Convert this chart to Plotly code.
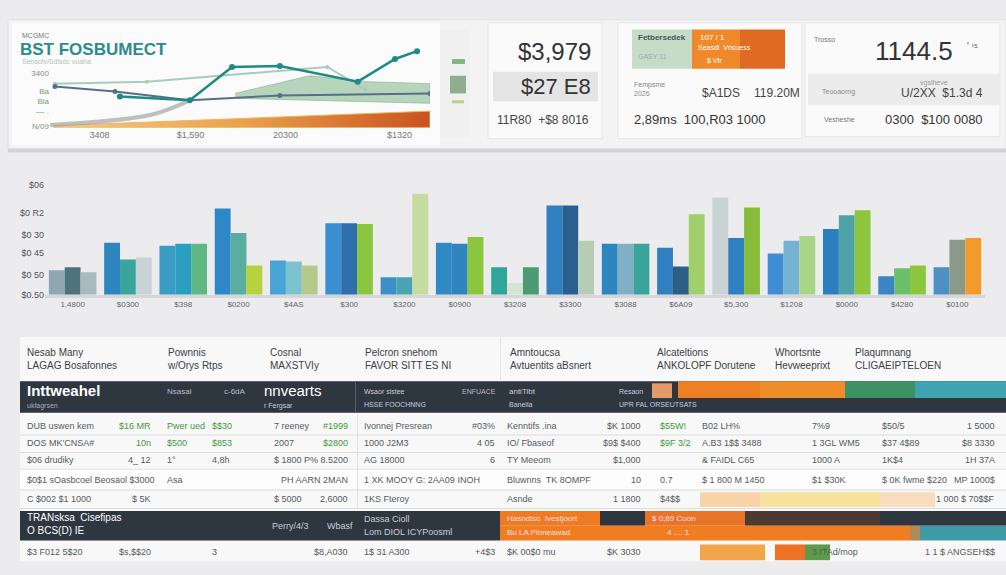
import plotly.graph_objects as go

W, H = 1006, 575
FONT = "Liberation Sans, Arial, sans-serif"

# ---------------- data ----------------
# top line chart
line_x_ticks = [1.3, 3.7, 6.2, 9.2]
line_x_labels = ["3408", "$1,590", "20300", "$1320"]
line_y_ticks = [65, 44, 32, 20, 2]
line_y_labels = ["3400", "Bа", "Bla", "–– .", "N/09"]
teal_x = [1.84, 3.68, 4.79, 6.05, 8.1, 9.08, 9.66]
teal_y = [37.6, 32.9, 72.9, 74.1, 55.3, 82.4, 91.8]
steel_x = [0.13, 1.71, 3.68, 6.05, 10.0]
steel_y = [49.4, 43.5, 32.9, 38.8, 41.2]
pale_x = [0.13, 2.55, 7.3, 8.3]
pale_y = [52.9, 55.3, 72.9, 45.9]
sweep_x = [0.0, 2.63, 3.68]
sweep_y = [3.5, 15.3, 32.9]
green_area_x = [4.87, 6.84, 8.29, 10.0, 10.0, 4.87]
green_area_y = [41.2, 62.4, 55.3, 52.9, 29.4, 35.3]
orange_area_x = [0.08, 10.0, 10.0, 0.08]
orange_area_y = [2.4, 20.0, 0.0, 0.0]

# bar chart
bar_categories = ["1,4800", "$0300", "$398", "$0200", "$4AS", "$300", "$3200", "$0900",
                  "$3208", "$3300", "$3088", "$6A09", "$5,300", "$1208", "$0000", "$4280", "$0100"]
series_a = [25, 53, 50, 88, 35, 73, 18, 53, 28, 91, 52, 48, 99, 42, 67, 19, 28]
series_b = [28, 36, 52, 63, 34, 73, 18, 52, 12, 91, 52, 29, 58, 55, 81, 27, 56]
series_c = [23, 38, 52, 30, 30, 72, 103, 59, 28, 55, 52, 82, 89, 60, 86, 30, 58]
bar_y_ticks = [0, 20, 43, 61, 83, 112]
bar_y_labels = ["$0.50", "$0 50", "$0 45", "$0 30", "$0 R2", "$06"]

# KPI values
kpi1 = ["$3,979", "$27 E8", "11R80  +$8 8016"]
kpi2 = ["$A1DS", "119.20M", "2,89ms  100,R03 1000"]
kpi3 = ["1144.5", "U/2XX  $1.3d 4", "0300  $100 0080"]

# table
table_header = ["Nesab Many<br>LAGAG Bosafonnes", "Pownnis<br>w/Orys Rtps", "Cosnal<br>MAXSTVIy",
                "Pelcron snehom<br>FAVOR SITT ES NI", "Amntoucsa<br>Avtuentits aBsnert",
                "Alcateltions<br>ANKOLOPF Dorutene", "Whortsnte<br>Hevweeprixt",
                "Plaqumnang<br>CLIGAEIPTELOEN"]
table_rows = [
    ["DUB uswen kem", "$16 MR", "Pwer ued", "$$30", "7 reeney", "#1999", "Ivonnej Presrean", "#03%",
     "Kenntifs .ina", "$K 1000", "$55W!", "B02 LH%", "7%9", "$50/5", "1 5000"],
    ["DOS MK'CNSA#", "10n", "$500", "$853", "2007", "$2800", "1000 J2M3", "4 05",
     "IO/ Fbaseof", "$9$ $400", "$9F 3/2", "A.B3 1$$ 3488", "1 3GL WM5", "$37 4$89", "$8 3330"],
    ["$06 drudiky", "4_ 12", "1°", "4,8h", "", "$ 1800 P% 8.5200", "AG 18000", "6",
     "TY Meeom", "$1,000", "", "& FAIDL C65", "1000 A", "1K$4", "1H 37A"],
    ["$0$1 sOasbcoel Beosaol $3000", "", "Asa", "", "", "PH AARN 2MAN", "1 XK MOOY G: 2AA09 INOH", "",
     "Bluwnns  TK 8OMPF", "10", "0.7", "$ 1 800 M 1450", "$1 $30K", "$ 0K fwme $220", "MP 1000$"],
    ["C $002 $1 1000", "$ 5K", "", "", "$ 5000", "2,6000", "1KS Fteroy", "",
     "Asnde", "1 1800", "$4$$", "", "", "", "1 000 $ 70$$F"],
]
last_row = ["$3 F012 5$20", "$s,$$20", "", "3", "", "$8,A030", "1$ 31 A300", "+4$3",
            "$K 00$0 mu", "$K 3030", "", "", "3 ITAd/mop", "", "1 1 $ ANGSEH$$"]

# ---------------- helpers ----------------
def px(x):
    return x / W

def py(y):
    return 1 - y / H

shapes = []
annotations = []

def rect(x0, y0, x1, y1, fill, line=None, layer="below", lw=1):
    shapes.append(dict(type="rect", xref="paper", yref="paper",
                       x0=px(x0), x1=px(x1), y0=py(y1), y1=py(y0),
                       fillcolor=fill, layer=layer,
                       line=dict(color=line or "rgba(0,0,0,0)", width=lw if line else 0)))

def text(x, y, s, size=10, color="#555", anchor="left", bold=False, family=FONT):
    if not s:
        return
    annotations.append(dict(xref="paper", yref="paper", x=px(x), y=py(y), text=(f"<b>{s}</b>" if bold else s),
                            showarrow=False, xanchor=anchor, yanchor="middle",
                            font=dict(size=size, color=color, family=family), align="left"))

# ---------------- background cards ----------------
rect(8, 15, 1006, 147, "#f3f3f4", "#e0e0e2")
rect(12, 18, 440, 143, "#fbfbfb")
rect(440, 25, 470, 135, "#f0f0f0")
rect(452, 55, 465, 60, "#7fb77f")
rect(450, 72, 466, 90, "#8fae90")
rect(452, 97, 464, 100, "#b7d27a")
rect(488, 18, 602, 136, "#fafafa", "#e6e6e6")
rect(493, 68, 598, 98, "#e4e4e4")
rect(618, 18, 802, 136, "#fafafa", "#e6e6e6")
rect(632, 25, 692, 65, "#c6dcc6")
rect(692, 25, 740, 65, "#ef8a2c")
rect(740, 25, 785, 65, "#e06a22")
rect(805, 18, 1000, 134, "#fafafa", "#e6e6e6")
rect(808, 70, 1000, 102, "#ececec")
rect(8, 146, 1006, 150, "#d3d3d6")

# KPI texts
text(593, 47, kpi1[0], 24, "#333", "right")
text(593, 83, kpi1[1], 22, "#333", "right")
text(495, 117, kpi1[2], 12, "#444")
text(636, 33, "Fetbersedek", 8, "#455", bold=True)
text(636, 52, "GASY 11", 7, "#9ab")
text(698, 33, "107 / 1", 8, "#fff")
text(696, 43, "Seasdi  Vnsuess", 7, "#fff")
text(705, 56, "$ Vtr", 7, "#fff")
text(632, 85, "Fempsme<br>2026", 7, "#888")
text(700, 90, kpi2[0], 12, "#444")
text(752, 90, kpi2[1], 12, "#444")
text(632, 117, kpi2[2], 13, "#333")
text(812, 35, "Trosso", 7, "#777")
text(955, 47, kpi3[0], 26, "#333", "right")
text(965, 42, "' ⁱ⁵", 10, "#555")
text(820, 89, "Teooaorng", 7, "#888")
text(950, 79, "vgslheve", 7, "#999", "right")
text(985, 90, kpi3[1], 12, "#444", "right")
text(822, 117, "Vesheshe", 7, "#777")
text(985, 117, kpi3[2], 13, "#333", "right")

# top chart titles
text(20, 31, "MCGMC", 7, "#777")
text(18, 45, "BST FOSBUMECT", 17, "#2a8c8f", bold=True)
text(20, 57, "Sensolv/Sdlsdc vuaha", 7, "#a9c8b8")

# ---------------- table ----------------
rect(20, 338, 1006, 566, "#f8f8f8")
rect(20, 383, 1006, 415, "#2e3640")
rect(678, 383, 760, 400, "#ee7f22")
rect(760, 383, 845, 400, "#ef8d2a")
rect(845, 383, 915, 400, "#3d9163")
rect(915, 383, 1006, 400, "#3ea5b0")
rect(652, 385, 672, 400, "#e59a6a")
rect(355, 383, 356, 415, "#56606a")
for yd in [437, 455, 472, 493, 512]:
    rect(20, yd, 1006, yd + 1, "#dcdcdc")
rect(20, 473, 1006, 492, "#fdfdfd")
rect(357, 416, 358, 512, "#e0e0e0")
rect(500, 338, 501, 383, "#e4e4e4")
rect(700, 496, 760, 511, "#f8d3a8")
rect(760, 496, 880, 511, "#f6e29a")
rect(880, 496, 935, 511, "#f7dcc0")
rect(20, 515, 500, 545, "#2e3640")
rect(500, 515, 600, 530, "#ee7a22")
rect(600, 515, 645, 530, "#2e3640")
rect(645, 515, 745, 530, "#e8742a")
rect(745, 515, 880, 530, "#4a3a32")
rect(880, 515, 1006, 530, "#2e3640")
rect(500, 530, 910, 545, "#f07d22")
rect(910, 530, 920, 545, "#b08a5a")
rect(920, 530, 1006, 545, "#3f9aa5")
rect(700, 549, 765, 565, "#f3a54a")
rect(775, 549, 805, 565, "#ef7124")
rect(805, 549, 830, 565, "#5d9a4a")

header_x = [25, 165, 268, 363, 508, 655, 773, 853]
for hx, ht in zip(header_x, table_header):
    text(hx, 360, ht, 10, "#3a3f46")

text(25, 392, "Inttweahel", 15, "#ffffff", bold=True)
text(25, 408, "ukfagrsen", 7, "#aab")
text(165, 393, "Nsasal", 8, "#bbc")
text(222, 393, "c-6dA", 8, "#bbc")
text(262, 392, "nnvearts", 15, "#ffffff")
text(262, 408, "r Fergsar", 7, "#ccd")
text(362, 393, "Wsaor sistee", 7, "#ccd")
text(362, 407, "HSSE FOOCHNNG", 7, "#ccd")
text(460, 393, "ENFUACE", 7, "#bbc")
text(507, 393, "antiTibt", 8, "#ccd")
text(507, 407, "Baneila", 7, "#ccd")
text(617, 393, "Resaon", 7, "#ccd")
text(617, 407, "UPR FAL ORSEUTSATS", 7, "#ccd")

col_x = [25, 153, 165, 210, 272, 350, 362, 497, 505, 643, 658, 700, 810, 880, 997]
col_anchor = ["left", "right", "left", "left", "left", "right", "left", "right",
              "left", "right", "left", "left", "left", "left", "right"]
green_cols = {1, 2, 3, 5, 10}
row_y = [428, 446, 463, 483, 503]
for ri, (ry, row) in enumerate(zip(row_y, table_rows)):
    for ci, val in enumerate(row):
        c = "#3d9a3d" if (ri < 2 and ci in green_cols) else "#555a60"
        text(col_x[ci], ry, val, 9, c, col_anchor[ci])

text(25, 522, "TRANsksa  Cisefipas", 10, "#ffffff")
text(25, 535, "O BCS(D) IE", 10, "#ffffff")
text(270, 530, "Perry/4/3", 9, "#ccd")
text(325, 530, "Wbasf", 9, "#ccd")
text(362, 523, "Dassa Cioll", 9, "#ccd")
text(362, 536, "Lom DIOL ICYPoosml", 9, "#ccd")
text(505, 523, "Hasndiso  Ivestjoort", 8, "#fde")
text(505, 537, "Bu LA Pinneawad", 8, "#fde")
text(650, 523, "$ 0;89 Coon", 8, "#fde")
text(665, 537, "4 .... 1", 8, "#fde")
for ci, val in enumerate(last_row):
    text(col_x[ci], 557, val, 9, "#555a60", col_anchor[ci])

# ---------------- traces ----------------
fig = go.Figure()

# top line chart (xaxis / yaxis)
fig.add_trace(go.Scatter(x=orange_area_x, y=orange_area_y, fill="toself", mode="lines",
                         line=dict(color="#f0b35a", width=1),
                         fillgradient=dict(type="horizontal",
                                           colorscale=[[0, "#f5c98a"], [0.5, "#e9a24c"], [1, "#c9521f"]]),
                         hoverinfo="skip", showlegend=False))
fig.add_trace(go.Scatter(x=green_area_x, y=green_area_y, fill="toself", mode="lines",
                         line=dict(color="rgba(120,175,130,0.6)", width=1),
                         fillcolor="rgba(128,182,138,0.55)", hoverinfo="skip", showlegend=False))
fig.add_trace(go.Scatter(x=sweep_x, y=sweep_y, mode="lines", line=dict(color="rgba(150,150,150,0.6)", width=4, shape="spline"),
                         showlegend=False))
fig.add_trace(go.Scatter(x=pale_x, y=pale_y, mode="lines+markers", line=dict(color="#a9cbbd", width=2),
                         marker=dict(size=4), showlegend=False))
fig.add_trace(go.Scatter(x=steel_x, y=steel_y, mode="lines+markers", line=dict(color="#56708a", width=2),
                         marker=dict(size=5), showlegend=False))
fig.add_trace(go.Scatter(x=teal_x, y=teal_y, mode="lines+markers", line=dict(color="#1f8a83", width=2.5),
                         marker=dict(size=6), showlegend=False))

# bar chart (xaxis2 / yaxis2)
colors_a = ["#8fa7b0", "#2e86c1", "#3a9bc4", "#2f88c5", "#4aa3d6", "#3a8fd0", "#3c8fc6", "#2f8ac3", "#2fa69a",
            "#2f7fc1", "#2e86c1", "#2f7fc1", "#c9d3d4", "#3f8fd4", "#2c7fbf", "#3a86c4", "#4e8fc4"]
colors_b = ["#4f737c", "#3aa59c", "#2a9fbf", "#5aaea0", "#7cc3cf", "#2f6fae", "#48a3b3", "#2f86bf", "#d5e5d3",
            "#2a5f90", "#7fb0c8", "#2d5f85", "#2f7fc1", "#74b3d3", "#4fa3a8", "#6cbf6a", "#8a9a8a"]
colors_c = ["#a9babf", "#c9d3d5", "#5fb883", "#b7d23c", "#b5c98a", "#8cc63f", "#c5dba0", "#8cc63f", "#4c9b74",
            "#b5cdb5", "#3aa39a", "#a1cf6b", "#86bc37", "#a9d684", "#8cc63f", "#8cc63f", "#f39a2c"]
for vals, cols in [(series_a, colors_a), (series_b, colors_b), (series_c, colors_c)]:
    fig.add_trace(go.Bar(x=bar_categories, y=vals, marker=dict(color=cols, line=dict(width=0)),
                         xaxis="x2", yaxis="y2", showlegend=False))

fig.update_layout(
    width=W, height=H, autosize=False,
    margin=dict(l=0, r=0, t=0, b=0),
    paper_bgcolor="#ececee", plot_bgcolor="rgba(0,0,0,0)",
    font=dict(family=FONT),
    barmode="group", bargap=0.14, bargroupgap=0.0,
    xaxis=dict(domain=[px(50), px(430)], range=[0, 10], showgrid=False, zeroline=False,
               tickvals=line_x_ticks, ticktext=line_x_labels, ticks="",
               tickfont=dict(size=9, color="#777")),
    yaxis=dict(domain=[py(125), py(40)], range=[0, 100], showgrid=False, zeroline=False,
               tickvals=line_y_ticks, ticktext=line_y_labels, ticks="",
               tickfont=dict(size=8, color="#7a9a7a")),
    xaxis2=dict(domain=[px(45), px(985)], anchor="y2", showgrid=False, zeroline=False,
                showline=True, linecolor="#d6d6d8", linewidth=3, ticks="",
                tickfont=dict(size=8, color="#666")),
    yaxis2=dict(domain=[py(295), py(183)], anchor="x2", range=[0, 112], showgrid=False, zeroline=False,
                tickvals=bar_y_ticks, ticktext=bar_y_labels, ticks="",
                tickfont=dict(size=9, color="#555")),
    shapes=shapes, annotations=annotations,
)

fig.write_html("out.html", config={"displayModeBar": False},
               post_script="document.body.style.margin='0';document.body.style.overflow='hidden';")
